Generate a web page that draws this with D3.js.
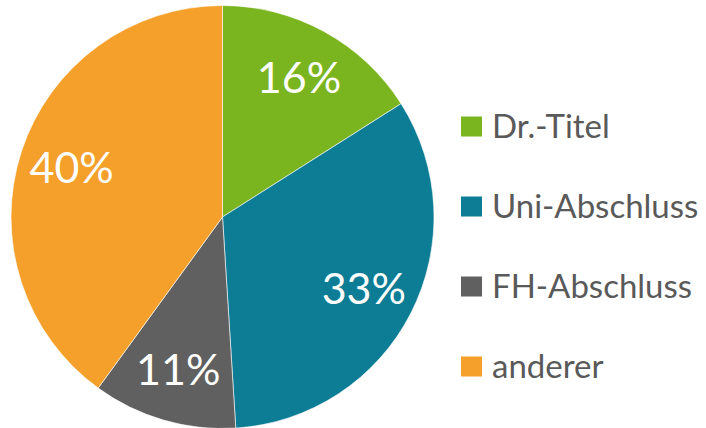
<!DOCTYPE html>
<html>
<head>
<meta charset="utf-8">
<script src="https://cdn.jsdelivr.net/npm/d3@7"></script>
<style>
  body { margin: 0; background: #fff; }
  svg { display: block; }
</style>
</head>
<body>
<div id="chart"></div>
<script>
// data
const categories = ['Dr.-Titel', 'Uni-Abschluss', 'FH-Abschluss', 'anderer'];
const shares = [16, 33, 11, 40];
const colors = ['#7AB51F', '#0D7C95', '#606060', '#F5A02A'];

const width = 706, height = 428;
const radius = 211.5;
const cx = 222.5, cy = 217;

const svg = d3.select('#chart')
  .append('svg')
    .attr('width', width)
    .attr('height', height);

const data = categories.map((c, i) => ({category: c, value: shares[i], color: colors[i]}));

const pie = d3.pie()
  .sort(null)
  .value(d => d.value);

const arc = d3.arc()
  .innerRadius(0)
  .outerRadius(radius);

// labels sit about three quarters of the way out
const labelArc = d3.arc()
  .innerRadius(radius * 0.75)
  .outerRadius(radius * 0.75);

const g = svg.append('g')
  .attr('transform', `translate(${cx}, ${cy})`);

const slices = g.selectAll('.slice')
  .data(pie(data))
  .enter().append('g')
    .attr('class', 'slice');

slices.append('path')
  .attr('d', arc)
  .attr('fill', d => d.data.color)
  .attr('stroke', '#fff')
  .attr('stroke-width', 0.6);

slices.append('text')
  .attr('transform', d => `translate(${labelArc.centroid(d)})`)
  .attr('text-anchor', 'middle')
  .attr('dy', '0.36em')
  .attr('fill', '#fff')
  .style('font-family', 'Lato, "Open Sans", sans-serif')
  .style('font-size', '43px')
  .text(d => d.data.value + '%');

// legend
const legendY = d3.scalePoint()
  .domain(categories)
  .range([126.5, 366.5]);

const legend = svg.append('g')
  .attr('class', 'legend');

const items = legend.selectAll('.item')
  .data(data)
  .enter().append('g')
    .attr('class', 'item')
    .attr('transform', d => `translate(461, ${legendY(d.category)})`);

items.append('rect')
  .attr('x', 0)
  .attr('y', -10)
  .attr('width', 21)
  .attr('height', 20)
  .attr('fill', d => d.color);

items.append('text')
  .attr('x', 31)
  .attr('y', 11.5)
  .attr('fill', '#595959')
  .style('font-family', 'Lato, "Open Sans", sans-serif')
  .style('font-size', '33px')
  .text(d => d.category);
</script>
</body>
</html>
